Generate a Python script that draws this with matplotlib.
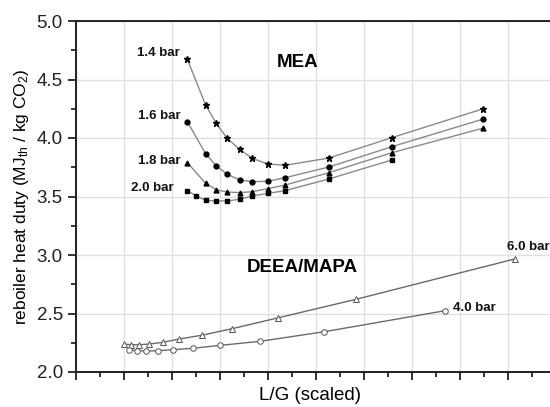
import matplotlib
matplotlib.use("Agg")
import matplotlib.pyplot as plt
from matplotlib.ticker import MultipleLocator, NullFormatter, FormatStrFormatter

plt.rcParams['font.family'] = ['Liberation Sans', 'DejaVu Sans']
plt.rcParams['mathtext.default'] = 'regular'

# MEA series (L/G scaled, reboiler duty)
mea_x = [2.32, 2.70, 2.92, 3.15, 3.41, 3.67, 4.00, 4.36, 5.27, 6.58, 8.47]
mea_14 = [4.673, 4.282, 4.126, 3.997, 3.903, 3.826, 3.778, 3.767, 3.829, 4.003, 4.248]
mea_16 = [4.139, 3.866, 3.763, 3.690, 3.641, 3.627, 3.630, 3.661, 3.752, 3.926, 4.160]
mea_18 = [3.789, 3.613, 3.558, 3.538, 3.533, 3.541, 3.567, 3.598, 3.704, 3.874, 4.083]
mea20_x = [2.32, 2.50, 2.70, 2.92, 3.15, 3.41, 3.67, 4.00, 4.36, 5.27, 6.58]
mea_20 = [3.550, 3.507, 3.467, 3.462, 3.462, 3.476, 3.504, 3.527, 3.550, 3.650, 3.812]

# DEEA/MAPA series
d60_x = [1.00, 1.15, 1.32, 1.53, 1.81, 2.15, 2.62, 3.25, 4.20, 5.83, 9.14]
d60_y = [2.239, 2.233, 2.233, 2.239, 2.254, 2.282, 2.314, 2.370, 2.462, 2.621, 2.966]
d40_x = [1.11, 1.28, 1.46, 1.71, 2.03, 2.44, 3.01, 3.83, 5.17, 7.69]
d40_y = [2.188, 2.182, 2.179, 2.182, 2.191, 2.203, 2.228, 2.262, 2.344, 2.524]

fig = plt.figure(figsize=(5.5, 4.07), dpi=100)
ax = fig.add_axes([76/550, 35/407, 480/550, 351/407])

line_kw = dict(color='#8a8a8a', lw=1.0, markersize=3.5, markerfacecolor='black',
               markeredgecolor='black')
ax.plot(mea_x, mea_14, marker='*', **{**line_kw, 'markersize': 4.5})
ax.plot(mea_x, mea_16, marker='o', **line_kw)
ax.plot(mea_x, mea_18, marker='^', **line_kw)
ax.plot(mea20_x, mea_20, marker='s', **{**line_kw, 'markersize': 3.2})

open_kw = dict(color='#6a6a6a', lw=1.0, markersize=4, markerfacecolor='white',
               markeredgecolor='#555555', markeredgewidth=0.7)
ax.plot(d60_x, d60_y, marker='^', **open_kw)
ax.plot(d40_x, d40_y, marker='o', **open_kw)

tkw = dict(fontsize=9.5, fontweight='bold', va='center', color='#111111')
ax.text(2.17, 4.729, '1.4 bar', ha='right', **tkw)
ax.text(2.17, 4.188, '1.6 bar', ha='right', **tkw)
ax.text(2.17, 3.806, '1.8 bar', ha='right', **tkw)
ax.text(2.04, 3.575, '2.0 bar', ha='right', **tkw)
ax.text(8.98, 3.071, '6.0 bar', ha='left', **tkw)
ax.text(7.85, 2.547, '4.0 bar', ha='left', **tkw)
ax.text(4.62, 4.644, 'MEA', ha='center', va='center', fontsize=13.5, fontweight='bold')
ax.text(4.71, 2.889, 'DEEA/MAPA', ha='center', va='center', fontsize=13.5, fontweight='bold')

ax.set_xlim(0, 10)
ax.set_ylim(2.0, 5.0)
ax.xaxis.set_major_locator(MultipleLocator(1))
ax.xaxis.set_minor_locator(MultipleLocator(0.5))
ax.xaxis.set_major_formatter(NullFormatter())
ax.yaxis.set_major_locator(MultipleLocator(0.5))
ax.yaxis.set_minor_locator(MultipleLocator(0.25))
ax.yaxis.set_major_formatter(FormatStrFormatter('%.1f'))
ax.tick_params(axis='both', which='major', direction='out', length=6, width=1.3,
               labelsize=13.5, colors='#222222')
ax.tick_params(axis='both', which='minor', direction='out', length=3.5, width=1.1)
ax.grid(True, which='major', color='#e0e0e0', lw=1.0)
ax.set_axisbelow(True)
for s in ax.spines.values():
    s.set_linewidth(1.4)
    s.set_color('#222222')

ax.set_ylabel(r'reboiler heat duty (MJ$_{th}$ / kg CO$_2$)', fontsize=12.5, labelpad=4)
ax.set_xlabel('L/G (scaled)', fontsize=13.5, labelpad=1)
ax.xaxis.label.set_position(((310 - 76) / 480, 0))

fig.savefig('out.png', dpi=100)
